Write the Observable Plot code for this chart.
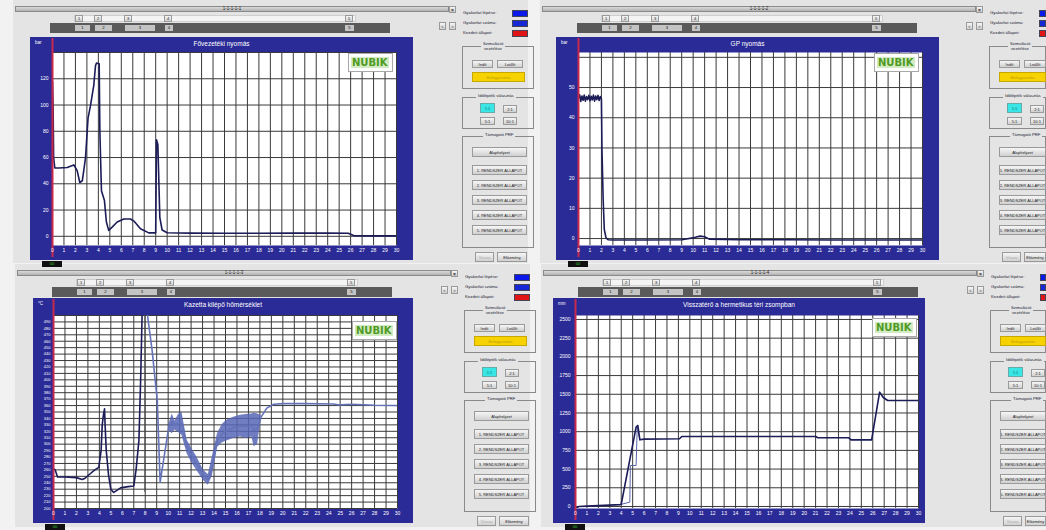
<!DOCTYPE html>
<html><head><meta charset="utf-8">
<script src="https://cdn.jsdelivr.net/npm/d3@7"></script>
<script src="https://cdn.jsdelivr.net/npm/@observablehq/plot@0.6"></script>
<style>
html,body{margin:0;padding:0}
body{width:1046px;height:530px;overflow:hidden;position:relative;background:#f2f2f2;font-family:"Liberation Sans",Arial,sans-serif}
.a{position:absolute;box-sizing:border-box}
.btn{background:linear-gradient(#f6f6f6,#d0d0d0);border:1px solid #9a9a9a;font-size:4px;color:#222;white-space:nowrap;overflow:hidden;display:flex;align-items:center;justify-content:center}
.grp{border:1px solid #8a8a8a}
.gt{background:#e4e4e4;font-size:4.2px;color:#223;text-align:center;line-height:4.6px;padding:0 2px;white-space:nowrap}
.t{font-size:4.3px;color:#223;white-space:nowrap}
.ttl{color:#fff;font-size:6.5px;text-align:center;white-space:nowrap}
.unit{color:#fff;font-size:4.5px;line-height:5px;text-align:left}
.nubik{background:#fff;border:1px solid #a8a8a8;display:flex;align-items:center;justify-content:flex-start;padding-left:2px}
.nubik span{background:#d3ebc2;color:#4f9a22;font-weight:bold;font-size:10px;line-height:11px;padding:0 1px;font-family:"DejaVu Sans",sans-serif}
</style></head><body>
<script>
// ---------- shared ----------
const xTicks = d3.range(0, 31);

// ---------- panel 1: Fővezetéki nyomás ----------
const p1Code = "1-1-1-1-1";
const p1Title = "Fővezetéki nyomás";
const p1Unit = "bar";
const p1YTicks = [0, 20, 40, 60, 80, 100, 120];
const p1GridY = [0, 20, 40, 60, 80, 100, 120, 140];
const p1X = [0, 0.05, 0.1, 0.2, 0.55, 1.28, 1.86, 2.15, 2.38, 2.6, 2.88, 3.1, 3.3, 3.6, 3.75, 3.84, 4.07, 4.13, 4.27, 4.53, 4.7, 4.9, 5.2, 5.64, 6.22, 6.8, 7.1, 7.67, 8.4, 9.0, 9.07, 9.19, 9.36, 9.56, 10, 12, 15, 18, 21, 24, 25.8, 26.3, 28, 30];
const p1Y = [118, 100, 60, 52, 52, 52.4, 54.4, 50, 41, 42.3, 60, 90, 98.9, 115, 130, 132, 131.5, 80, 34.7, 27.2, 10.9, 4.5, 7, 10.9, 13.2, 13.2, 11.6, 5.8, 2.6, 2.6, 73.6, 69.8, 14.3, 4.8, 2.7, 2.4, 2.3, 2.3, 2.4, 2.4, 2.3, 0.4, 0.3, 0.3];

// ---------- panel 2: GP nyomás ----------
const p2Code = "1-1-1-1-2";
const p2Title = "GP nyomás";
const p2Unit = "bar";
const p2YTicks = [0, 10, 20, 30, 40, 50];
const p2GridY = [0, 10, 20, 30, 40, 50, 60];
const p2X = [0, 0.1, 0.2, 0.3, 0.4, 0.5, 0.6, 0.7, 0.8, 0.9, 1.0, 1.1, 1.2, 1.3, 1.4, 1.5, 1.6, 1.7, 1.8, 1.9, 2.0, 2.05, 2.15, 2.25, 2.4, 2.6, 3, 6, 9, 10.2, 10.6, 11.0, 11.4, 14, 18, 22, 26, 30];
const p2Y = [46.5, 47.6, 45.4, 47.2, 45.8, 47.5, 45.5, 47.0, 46.0, 47.4, 45.6, 47.1, 45.9, 47.5, 45.5, 47.2, 46.0, 47.4, 45.7, 47.0, 46.2, 29, 13, 3, 0.2, -0.4, -0.5, -0.5, -0.4, 0.4, 0.8, 0.6, -0.2, -0.4, -0.4, -0.5, -0.5, -0.5];

// ---------- panel 3: Kazetta kilépő hőmérséklet ----------
const p3Code = "1-1-1-1-3";
const p3Title = "Kazetta kilépő hőmérséklet";
const p3Unit = "°C";
const p3GridY = d3.range(200, 501, 10);
const p3YTicks = d3.range(200, 491, 10);
const p3DarkX = [0, 0.15, 0.35, 1, 2, 2.5, 2.75, 3.2, 3.6, 3.95, 4.15, 4.25, 4.35, 4.45, 4.5, 4.6, 4.8, 5.0, 5.25, 5.6, 5.85, 6.5, 7.0, 7.2, 7.45, 7.6, 7.75];
const p3DarkY = [262, 260, 249, 249, 248, 245, 247, 254, 260, 264, 290, 330, 345, 355, 330, 290, 252, 230, 225, 229, 232, 234, 235, 260, 306, 400, 520];
const p3CursorX = [7.95];
const p3LightX = [7.95, 8.2, 8.6, 9.05, 9.3, 9.6, 10.05, 10.35, 10.6, 10.9, 11.2, 11.65, 12.1, 12.5, 13.1, 13.5, 13.85, 14.3, 14.7, 15.1, 15.7, 16.3, 16.8, 17.3, 17.5, 17.8, 18.1, 18.6, 19.2, 20, 22, 24.4, 25, 26, 28, 30];
const p3LightY = [530, 500, 446, 368, 241, 275, 326, 335, 330, 332, 332, 296, 281, 270, 251, 245, 265, 306, 316, 321, 326, 328, 328, 329, 322, 324, 342, 356, 362, 363, 363, 362.5, 361, 362, 360.5, 360];
const p3BandX = [10.05, 10.35, 10.6, 10.9, 11.2, 11.65, 12.1, 12.5, 13.1, 13.5, 13.85, 14.3, 14.7, 15.1, 15.7, 16.3, 16.8, 17.3, 17.5, 17.8, 18.1];
const p3BandLo = [322, 316, 322, 318, 314, 285, 270, 259, 243, 236, 250, 295, 302, 305, 309, 311, 309, 311, 296, 300, 338];
const p3BandHi = [330, 347, 336, 346, 350, 306, 292, 280, 259, 253, 280, 316, 330, 337, 342, 345, 346, 347, 348, 347, 345];

// ---------- panel 4: Visszatérő a hermetikus téri zsompban ----------
const p4Code = "1-1-1-1-4";
const p4Title = "Visszatérő a hermetikus téri zsompban";
const p4Unit = "mm";
const p4YTicks = d3.range(0, 2501, 250);
const p4AX = [0, 0.3, 1, 2, 3, 3.9, 4.0, 5.3, 5.45, 5.63, 6, 9.1, 9.3, 21.0, 21.2, 23.9, 24.1, 25.9, 26.6, 26.9, 27.3, 30];
const p4AY = [-25, 0, 5, 12, 18, 25, 30, 1060, 1083, 891, 900, 905, 935, 935, 918, 918, 891, 891, 1528, 1460, 1417, 1417];
const p4BX = [3.9, 4.75, 4.8, 5.3, 5.4, 5.63];
const p4BY = [25, 58, 548, 548, 1060, 891];

// ---------- UI texts ----------
const legendTexts = ["Gyakorlat lépése:", "Gyakorlat száma:", "Kezdeti állapot:"];
const markerLabels = ["1", "2", "3", "4", "5"];
const stateButtons = ["Alaphelyzet", "1. RENDSZER ÁLLAPOT", "2. RENDSZER ÁLLAPOT", "3. RENDSZER ÁLLAPOT", "4. RENDSZER ÁLLAPOT", "5. RENDSZER ÁLLAPOT"];

// ---------- helpers ----------
const PAGE_W = 1046;
function el(cls, x, y, w, h, css, text) {
  const d = document.createElement("div");
  d.className = "a " + cls;
  d.style.left = x + "px"; d.style.top = y + "px";
  if (w != null) {
    if (x + w > PAGE_W) w = PAGE_W - x;
    d.style.width = w + "px";
  }
  if (h != null) d.style.height = h + "px";
  if (css) d.style.cssText += ";" + css;
  if (text != null) d.textContent = text;
  document.body.appendChild(d);
  return d;
}

function chrome(ox, oy, code) {
  el("", ox + 13, oy, 515, 263, "background:#e4e4e4");
  el("", ox + 15, oy + 6, 434, 6, "background:linear-gradient(#dadada,#b2b2b2);border:1px solid #8a8a8a;font-size:4.5px;line-height:4px;text-align:center;color:#222", code);
  el("btn", ox + 449, oy + 6, 7, 7, "font-size:5px;font-weight:bold", "×");
  // marker row
  el("", ox + 74, oy + 15, 282, 7, "background:#f4f4f4;border:1px solid #cfcfcf");
  const topPos = [[75, 8], [94, 8], [124, 8], [164, 8], [345, 8]];
  topPos.forEach(([x, w], i) => el("btn", ox + x, oy + 15, w, 7, "font-size:4px", markerLabels[i]));
  el("", ox + 50, oy + 23, 340, 10, "background:#5a5a5a");
  const botPos = [[75, 15], [95, 17], [125, 30], [165, 8], [345, 9]];
  botPos.forEach(([x, w], i) => el("", ox + x, oy + 25, w, 6, "background:#c4c4c4;font-size:4.2px;line-height:6px;text-align:center;color:#111", markerLabels[i]));
  // arrows
  el("btn", ox + 439, oy + 22, 7, 8, "font-size:4px", "<");
  el("btn", ox + 449, oy + 22, 7, 8, "font-size:4px", ">");
  // legend
  const sw = ["#0a18e8", "#1628d6", "#e01414"];
  legendTexts.forEach((t, i) => {
    el("t", ox + 463, oy + 10 + i * 10, null, null, "", t);
    el("", ox + 512, oy + 10 + i * 10, 16, 7, "background:" + sw[i] + ";border:1px solid #445");
  });
  // group 1
  el("grp", ox + 462, oy + 46, 72, 43);
  el("gt", ox + 481, oy + 42, null, null, "", "Szimuláció");
  el("gt", ox + 482, oy + 47, null, null, "", "vezérlése");
  el("btn", ox + 472, oy + 60, 21, 8, "", "Indít");
  el("btn", ox + 497, oy + 60, 26, 8, "", "Leállít");
  el("", ox + 472, oy + 72, 53, 10, "background:#f6d200;border:1px solid #c8a800;font-size:4px;color:#c09c00;display:flex;align-items:center;justify-content:center", "Befagyasztás");
  // group 2
  el("grp", ox + 462, oy + 97, 72, 32);
  el("gt", ox + 476, oy + 94, null, null, "", "Időlépték választás");
  el("", ox + 480, oy + 103, 15, 10, "background:#38e6e6;border:1px solid #6aa;font-size:4px;display:flex;align-items:center;justify-content:center;color:#166", "1:1");
  el("btn", ox + 503, oy + 105, 14, 8, "", "2:1");
  el("btn", ox + 480, oy + 117, 15, 8, "", "5:1");
  el("btn", ox + 503, oy + 117, 14, 8, "", "10:1");
  // group 3
  el("grp", ox + 462, oy + 136, 72, 112);
  el("gt", ox + 483, oy + 133, null, null, "", "Támogató PRF");
  const by = [147, 165, 180, 195, 210, 225];
  stateButtons.forEach((t, i) => el("btn", ox + 472, oy + by[i], 55, 10, "", t));
  // bottom buttons
  el("btn", ox + 475, oy + 252, 19, 10, "color:#aaa", "Vissza");
  el("btn", ox + 497, oy + 252, 30, 10, "", "Előzmény");
}

function panel(cfg) {
  const { frame, m, yDomain, yTicks, gridY, marks, title, unit, yPad, logo } = cfg;
  const svg = Plot.plot({
    width: frame.w, height: frame.h,
    marginLeft: m[0], marginRight: m[1], marginTop: m[2], marginBottom: m[3],
    x: { domain: [0, 30] },
    y: { domain: yDomain },
    style: { background: "#2b2b97", color: "white", fontFamily: "Liberation Sans, Arial, sans-serif", fontSize: "5px", overflow: "visible" },
    marks: [
      Plot.frame({ fill: "white" }),
      Plot.gridX(xTicks, { stroke: "#3a3a3a", strokeOpacity: 1, strokeWidth: 1 }),
      Plot.gridY(gridY, { stroke: "#3a3a3a", strokeOpacity: 1, strokeWidth: 1 }),
      ...marks,
      Plot.ruleX([0], { stroke: "#c8284a", strokeWidth: 2, insetTop: -(m[2] - 1), insetBottom: -(m[3] - 3) }),
      Plot.axisX(xTicks, { tickSize: 0, tickPadding: 2.5, fontSize: 5, fill: "white", label: null, tickFormat: "d" }),
      Plot.axisY(yTicks, { tickSize: 0, tickPadding: yPad || 4, fontSize: cfg.yFont || 5, fill: "white", label: null, tickFormat: "d" })
    ]
  });
  svg.style.position = "absolute";
  svg.style.left = frame.x + "px";
  svg.style.top = frame.y + "px";
  document.body.appendChild(svg);
  el("ttl", frame.x, frame.y + 3, frame.w, null, "", title);
  el("unit", frame.x + 5, frame.y + 3, null, null, "", unit);
  const lg = el("nubik", logo[0], logo[1], 45, 19, "");
  const s = document.createElement("span"); s.textContent = "NUBIK"; lg.appendChild(s);
  el("", frame.x + 12, frame.y + frame.h + 1, 20, 6, "background:#111;color:#3c3;font-size:4px;line-height:6px;text-align:center", "00");
}

const navy = "#1c1c58";

// chrome
chrome(0, 0, p1Code);
chrome(527, 0, p2Code);
chrome(2, 264, p3Code);
chrome(528, 264, p4Code);

// panel 1
panel({
  frame: { x: 30, y: 37, w: 383, h: 223 }, m: [22, 17, 15, 15],
  yDomain: [-7, 140], yTicks: p1YTicks, gridY: p1GridY,
  title: p1Title, unit: p1Unit, logo: [348, 53],
  marks: [Plot.line(p1X, { x: p1X, y: p1Y, stroke: navy, strokeWidth: 1.6, clip: true })]
});

// panel 2
panel({
  frame: { x: 556, y: 37, w: 383, h: 223 }, m: [22, 17, 15, 15],
  yDomain: [-2.3, 61.6], yTicks: p2YTicks, gridY: p2GridY,
  title: p2Title, unit: p2Unit, logo: [874, 53],
  marks: [Plot.line(p2X, { x: p2X, y: p2Y, stroke: navy, strokeWidth: 1.6, clip: true })]
});

// panel 3
panel({
  frame: { x: 33, y: 298, w: 380, h: 225 }, m: [20, 16, 17, 15],
  yDomain: [200, 500], yTicks: p3YTicks, gridY: p3GridY, yPad: 3, yFont: 4,
  title: p3Title, unit: p3Unit, logo: [352, 321],
  marks: [
    Plot.areaY(p3BandX, { x: p3BandX, y1: p3BandLo, y2: p3BandHi, fill: "#5866b6", fillOpacity: 0.85, clip: true }),
    Plot.line(p3LightX, { x: p3LightX, y: p3LightY, stroke: "#6472b8", strokeWidth: 1.6, clip: true }),
    Plot.ruleX(p3CursorX, { stroke: "#4a4a4a", strokeWidth: 0.8, y1: 225, y2: 500 }),
    Plot.line(p3DarkX, { x: p3DarkX, y: p3DarkY, stroke: navy, strokeWidth: 1.6, clip: true })
  ]
});

// panel 4
panel({
  frame: { x: 553, y: 298, w: 372, h: 225 }, m: [22, 7, 17, 15],
  yDomain: [-27, 2553], yTicks: p4YTicks, gridY: p4YTicks, yPad: 5,
  title: p4Title, unit: p4Unit, logo: [872, 318],
  marks: [
    Plot.line(p4BX, { x: p4BX, y: p4BY, stroke: "#5a66a8", strokeWidth: 1, clip: true }),
    Plot.line(p4AX, { x: p4AX, y: p4AY, stroke: navy, strokeWidth: 1.6, clip: true })
  ]
});
</script>
</body></html>
